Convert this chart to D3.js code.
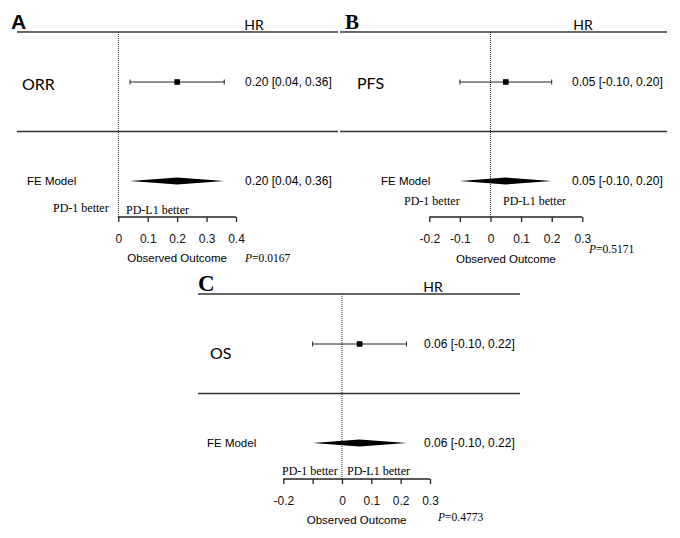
<!DOCTYPE html>
<html lang="en">
<head>
  <meta charset="utf-8">
  <title>Forest plots</title>
  <script src="https://d3js.org/d3.v7.min.js"></script>
  <style>
    body { margin: 0; background: #fff; }
    .sans { font-family: "Liberation Sans", Arial, sans-serif; }
    .cal { font-family: Lato, "Open Sans", sans-serif; }
    .serif { font-family: "Liberation Serif", "Times New Roman", serif; }
  </style>
</head>
<body>
<svg id="chart" width="680" height="538"></svg>
<script>
  // data
  const panelIds = ["A", "B", "C"];
  const outcomes = ["ORR", "PFS", "OS"];
  const estimates = [0.20, 0.05, 0.06];
  const lowers = [0.04, -0.10, -0.10];
  const uppers = [0.36, 0.20, 0.22];
  const pValues = ["0.0167", "0.5171", "0.4773"];
  const tickSets = [
    [0, 0.1, 0.2, 0.3, 0.4],
    [-0.2, -0.1, 0, 0.1, 0.2, 0.3],
    [-0.2, -0.1, 0, 0.1, 0.2, 0.3]
  ];
  const hiddenTickLabels = [[], [], [-0.1]];

  // layout for each panel (pixels)
  const layout = [
    { dy: 0, left: 17, right: 338, r0: 118.3, r1: 236, dom: [0, 0.4],
      letterX: 11, letterFont: "sans", labelX: 22, labelDy: 2, valX: 245, feX: 27,
      hrX: 254, pdY: 208, pd1X: 53, pdl1X: 126, outY: 258, pX: 245, pY: 258 },
    { dy: 0, left: 340, right: 667, r0: 429.3, r1: 582.3, dom: [-0.2, 0.3],
      letterX: 345, letterFont: "serif", labelX: 357, labelDy: 1, valX: 572, feX: 381,
      hrX: 583, pdY: 201, pd1X: 404, pdl1X: 503, outY: 259, pX: 589, pY: 249 },
    { dy: 262, left: 198, right: 520, r0: 283.3, r1: 430, dom: [-0.2, 0.3],
      letterX: 198, letterFont: "serif", labelX: 210, labelDy: 9, valX: 424, feX: 207,
      hrX: 433, pdY: 209, pd1X: 282, pdl1X: 347, outY: 258, pX: 438, pY: 255 }
  ];

  const svg = d3.select("#chart");
  const ink = "#222";

  panelIds.forEach(function (id, i) {
    const L = layout[i];
    const g = svg.append("g").attr("transform", `translate(0, ${L.dy})`);
    const x = d3.scaleLinear().domain(L.dom).range([L.r0, L.r1]);

    const yTop = 32, yStudy = 82, yMid = 131.5, yFE = 181, yAxis = 217;

    // panel letter
    g.append("text")
      .attr("class", L.letterFont)
      .attr("x", L.letterX).attr("y", 29)
      .style("font-weight", "bold")
      .style("font-size", i === 2 ? "23px" : "21px")
      .text(id);

    // HR heading
    g.append("text").attr("class", "cal")
      .attr("x", L.hrX).attr("y", 30)
      .attr("text-anchor", "middle")
      .style("font-size", "14px")
      .text("HR");

    // horizontal rules
    [yTop, yMid].forEach(function (yy) {
      g.append("line")
        .attr("x1", L.left).attr("x2", L.right)
        .attr("y1", yy).attr("y2", yy)
        .attr("stroke", "#333").attr("stroke-width", 1.5);
    });

    // dotted zero line
    g.append("line")
      .attr("x1", x(0)).attr("x2", x(0))
      .attr("y1", yTop).attr("y2", yAxis)
      .attr("stroke", "#222").attr("stroke-width", 1)
      .attr("stroke-dasharray", "1,1");

    // study row
    g.append("text").attr("class", "cal")
      .attr("x", L.labelX).attr("y", yStudy + L.labelDy)
      .attr("dy", "0.35em")
      .style("font-size", "16px")
      .text(outcomes[i]);

    g.append("line")
      .attr("x1", x(lowers[i])).attr("x2", x(uppers[i]))
      .attr("y1", yStudy).attr("y2", yStudy)
      .attr("stroke", ink).attr("stroke-width", 1);
    [lowers[i], uppers[i]].forEach(function (v) {
      g.append("line")
        .attr("x1", x(v)).attr("x2", x(v))
        .attr("y1", yStudy - 2.5).attr("y2", yStudy + 2.5)
        .attr("stroke", ink).attr("stroke-width", 1);
    });
    g.append("rect")
      .attr("x", x(estimates[i]) - 2.8).attr("y", yStudy - 2.8)
      .attr("width", 5.6).attr("height", 5.6)
      .attr("fill", "#000");

    const ciText = `${estimates[i].toFixed(2)} [${lowers[i].toFixed(2)}, ${uppers[i].toFixed(2)}]`;
    g.append("text").attr("class", "sans")
      .attr("x", L.valX).attr("y", yStudy).attr("dy", "0.35em")
      .style("font-size", "12px")
      .text(ciText);

    // FE model row
    g.append("text").attr("class", "sans")
      .attr("x", L.feX).attr("y", yFE).attr("dy", "0.35em")
      .style("font-size", "11.5px")
      .text("FE Model");

    const diamond = [
      [x(lowers[i]), yFE], [x(estimates[i]), yFE - 3.5],
      [x(uppers[i]), yFE], [x(estimates[i]), yFE + 3.5]
    ];
    g.append("path")
      .attr("d", d3.line()(diamond) + "Z")
      .attr("fill", "#000");

    g.append("text").attr("class", "sans")
      .attr("x", L.valX).attr("y", yFE).attr("dy", "0.35em")
      .style("font-size", "12px")
      .text(ciText);

    // favours labels
    g.append("text").attr("class", "serif")
      .attr("x", L.pd1X).attr("y", L.pdY).attr("dy", "0.35em")
      .style("font-size", "12px")
      .text("PD-1 better");
    g.append("text").attr("class", "serif")
      .attr("x", L.pdl1X).attr("y", L.pdY + (i === 0 ? 2 : 0)).attr("dy", "0.35em")
      .style("font-size", "12px")
      .text("PD-L1 better");

    // axis
    const axis = d3.axisBottom(x)
      .tickValues(tickSets[i])
      .tickSize(5)
      .tickPadding(12)
      .tickFormat(function (d) {
        if (hiddenTickLabels[i].some(h => Math.abs(h - d) < 1e-9)) return "";
        return d === 0 ? "0" : d3.format(".1f")(d).replace("−", "-");
      });
    const ax = g.append("g")
      .attr("transform", `translate(0, ${yAxis})`)
      .call(axis);
    ax.select(".domain")
      .attr("d", `M${x.range()[0]},0H${x.range()[1]}`)
      .attr("stroke", ink).attr("stroke-width", 1.3);
    ax.selectAll(".tick line").attr("stroke", ink).attr("stroke-width", 1.3);
    ax.selectAll(".tick text")
      .attr("class", "sans")
      .style("font-size", "12px")
      .attr("fill", "#111");

    g.append("text").attr("class", "sans")
      .attr("x", (x.range()[0] + x.range()[1]) / 2)
      .attr("y", L.outY).attr("dy", "0.35em")
      .attr("text-anchor", "middle")
      .style("font-size", "11.5px")
      .text("Observed Outcome");

    const p = g.append("text").attr("class", "serif")
      .attr("x", L.pX).attr("y", L.pY).attr("dy", "0.35em")
      .style("font-size", "11.5px");
    p.append("tspan").style("font-style", "italic").text("P");
    p.append("tspan").text("=" + pValues[i]);
  });
</script>
</body>
</html>
